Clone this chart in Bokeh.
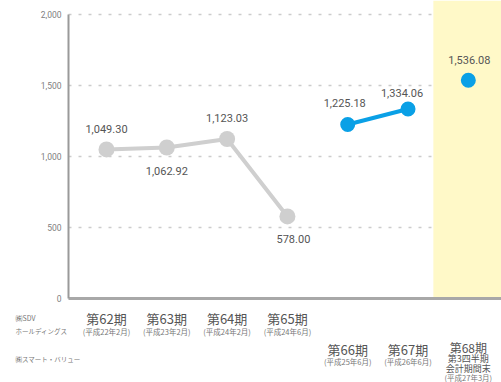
from bokeh.plotting import figure
from bokeh.models import Range1d, ColumnDataSource, BoxAnnotation, FixedTicker, LabelSet
from bokeh.core.properties import value
from bokeh.embed import file_html
from bokeh.resources import INLINE

# ---- data ----
sdv_periods = ["第62期", "第63期", "第64期", "第65期"]
sdv_dates = ["(平成22年2月)", "(平成23年2月)", "(平成24年2月)", "(平成24年6月)"]
sdv_values = [1049.30, 1062.92, 1123.03, 578.00]

sv_periods = ["第66期", "第67期"]
sv_dates = ["(平成25年6月)", "(平成26年6月)"]
sv_values = [1225.18, 1334.06]

q_period = ["第68期"]
q_sub = ["第3四半期", "会計期間末", "(平成27年3月)"]
q_values = [1536.08]

y_ticks = [0, 500, 1000, 1500, 2000]
y_tick_labels = ["0", "500", "1,000", "1,500", "2,000"]
row_labels = ["㈱SDV", "ホールディングス", "㈱スマート・バリュー"]

sdv_x = list(range(len(sdv_values)))
sv_x = [len(sdv_values) + i for i in range(len(sv_values))]
q_x = [len(sdv_values) + len(sv_values)]

NUM_FONT = "Roboto"
JP_FONT = "Noto Sans CJK JP"

# ---- layout geometry (pixels) ----
W, H = 501, 382
AXIS_X = 68          # canvas x of the value axis
AXIS_Y = 298         # canvas y of the category axis
X0, X1 = -0.63, 6.55 # data x at the value axis and at the right edge
Y_TOP = 2098         # data y at the top edge
px_x = (W - AXIS_X) / (X1 - X0)
u_y = Y_TOP / AXIS_Y # data units per pixel (y)

def cx(px):  # canvas x -> data x
    return X0 + (px - AXIS_X) / px_x

def cy(py):  # canvas y -> data y
    return (AXIS_Y - py) * u_y

p = figure(width=W, height=H, output_backend="svg", toolbar_location=None,
           x_range=Range1d(cx(0), X1), y_range=Range1d(cy(H), Y_TOP),
           min_border_left=0, min_border_right=0, min_border_top=0, min_border_bottom=0)
p.outline_line_color = None

p.add_layout(BoxAnnotation(left=5.42, bottom=0, fill_color="#FFF9C8", fill_alpha=1.0,
                           line_color=None, level="underlay"))

p.yaxis.fixed_location = X0
p.yaxis.ticker = FixedTicker(ticks=y_ticks)
p.yaxis.major_label_overrides = {t: l for t, l in zip(y_ticks, y_tick_labels)}
p.yaxis.bounds = (0, 2000)
p.yaxis.axis_line_color = "#9a9a9a"
p.yaxis.axis_line_width = 2
p.yaxis.major_tick_line_color = None
p.yaxis.minor_tick_line_color = None
p.yaxis.major_tick_out = 0
p.yaxis.major_tick_in = 0
p.yaxis.minor_tick_out = 0
p.yaxis.minor_tick_in = 0
p.yaxis.major_label_text_font = NUM_FONT
p.yaxis.major_label_text_font_size = "8.5px"
p.yaxis.major_label_text_color = "#808080"
p.yaxis.major_label_standoff = 7

p.xaxis.fixed_location = 0
p.xaxis.ticker = FixedTicker(ticks=[])
p.xaxis.bounds = (X0, X1)
p.xaxis.axis_line_color = "#a8a8a8"
p.xaxis.axis_line_width = 3
p.xaxis.major_tick_line_color = None
p.xaxis.minor_tick_line_color = None
p.xaxis.major_tick_out = 0
p.xaxis.major_label_text_font_size = "0px"

p.xgrid.grid_line_color = None
ygrid = p.ygrid[0]
ygrid.ticker = FixedTicker(ticks=[500, 1000, 1500, 2000])
if "cross_bounds" in ygrid.properties():
    ygrid.cross_bounds = (X0, X1)
ygrid.grid_line_color = "#cccccc"
ygrid.grid_line_width = 1.5
ygrid.grid_line_dash = "3 7"

p.line(sdv_x, sdv_values, line_color="#cfcfcf", line_width=4)
p.scatter(sdv_x, sdv_values, size=16, fill_color="#cfcfcf", line_color=None)
p.line(sv_x, sv_values, line_color="#0aa0e6", line_width=4)
p.scatter(sv_x, sv_values, size=15, fill_color="#0aa0e6", line_color=None)
p.scatter(q_x, q_values, size=15, fill_color="#0aa0e6", line_color=None)

all_x = sdv_x + sv_x + q_x
all_v = sdv_values + sv_values + q_values
off_x = [0, 0, 0, 6, -3, -6, 1]
off_y = [20, -23, 21, -23, 21, 16, 20]
vsrc = ColumnDataSource(dict(x=all_x, y=all_v, t=[f"{v:,.2f}" for v in all_v], ox=off_x, oy=off_y))
p.add_layout(LabelSet(x="x", y="y", text="t", source=vsrc, x_offset="ox", y_offset="oy",
                      text_align="center", text_baseline="middle", text_font=value(NUM_FONT),
                      text_font_size="11px", text_color="#555555"))

# ---- category labels below the axis (canvas-pixel rows) ----
def txt(xs, row_py, texts, size, align="center", color="#555555"):
    p.text(x=xs, y=[cy(row_py)] * len(xs), text=texts, text_align=align, text_baseline="middle",
           text_font=value(JP_FONT), text_font_size=size, text_color=color)

txt(sdv_x, 318, sdv_periods, "13px")
txt(sdv_x, 331, sdv_dates, "7.5px", color="#777777")
txt(sv_x, 349, sv_periods, "13px")
txt(sv_x, 361, sv_dates, "7.5px", color="#777777")
txt(q_x, 347, q_period, "12px")
txt(q_x, 358, q_sub[:1], "9px")
txt(q_x, 368, q_sub[1:2], "9px")
txt(q_x, 377, q_sub[2:], "7.5px", color="#777777")

row_x = [cx(15)]
txt(row_x, 317, row_labels[:1], "7px", align="left", color="#777777")
txt(row_x, 330, row_labels[1:2], "6.5px", align="left", color="#777777")
txt(row_x, 358, row_labels[2:], "6.5px", align="left", color="#777777")

open("out.html", "w").write(file_html(p, INLINE))
